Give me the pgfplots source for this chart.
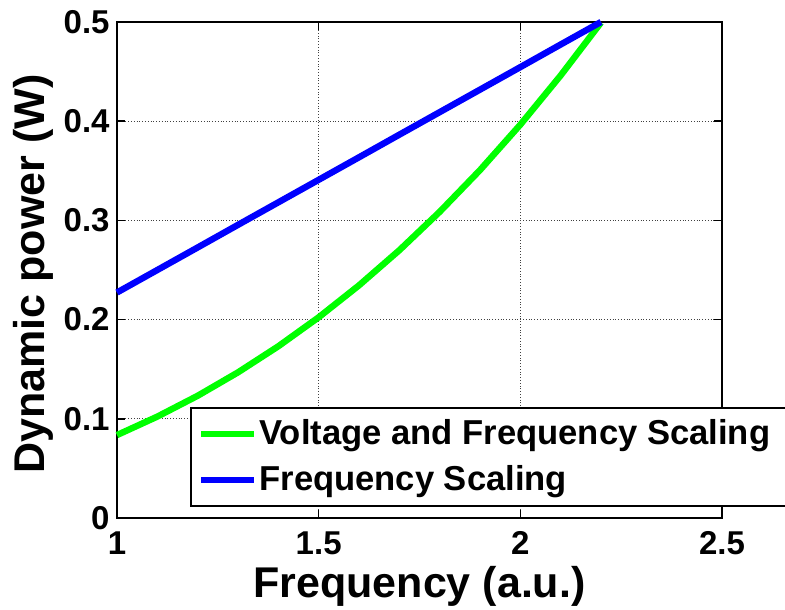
\documentclass[border=0pt]{standalone}
\usepackage{fontspec}
\setmainfont{Liberation Sans}
\usepackage{pgfplots}
\pgfplotsset{compat=1.18}

% scale: 1 px of the reference = 0.5pt
\pgfplotstableread{
f     p
1.0   0.0836
1.1   0.1022
1.2   0.1232
1.3   0.1468
1.4   0.1731
1.5   0.2023
1.6   0.2345
1.7   0.2699
1.8   0.3086
1.9   0.3507
2.0   0.3965
2.1   0.4461
2.2   0.4994
}\vfsdata
\pgfplotstableread{
f     p
1.0   0.2273
1.1   0.2500
1.2   0.2727
1.3   0.2955
1.4   0.3182
1.5   0.3409
1.6   0.3636
1.7   0.3864
1.8   0.4091
1.9   0.4318
2.0   0.4545
2.1   0.4773
2.2   0.5000
}\fsdata

\begin{document}
\begin{tikzpicture}
\begin{axis}[
    name=ax,
    scale only axis,
    width=302.5pt, height=248pt,
    xmin=1, xmax=2.5, ymin=0, ymax=0.5,
    xtick={1,1.5,2,2.5},
    ytick={0,0.1,0.2,0.3,0.4,0.5},
    yticklabel style={/pgf/number format/fixed, /pgf/number format/precision=1},
    /pgf/number format/assume math mode=true,
    ticklabel style={font=\fontsize{16.5}{19}\selectfont\bfseries},
    xticklabel style={anchor=base, inner sep=0pt, yshift=-18.5pt},
    yticklabel style={anchor=east, inner sep=0pt, xshift=-3.5pt},
    tick align=inside,
    major tick length=4pt,
    tick style={black, line width=0.8pt},
    axis line style={line width=1pt},
    grid=major,
    major grid style={densely dotted, gray!50!black, line width=0.55pt},
    clip=false,
    xlabel={Frequency (a.u.)},
    ylabel={Dynamic power (W)},
    every axis x label/.style={at={(rel axis cs:0.5,0)}, yshift=-40pt, anchor=base,
        font=\fontsize{21.5}{25}\selectfont\bfseries},
    every axis y label/.style={at={(rel axis cs:0,0.5)}, xshift=-36pt, yshift=-2pt,
        rotate=90, anchor=base, font=\fontsize{21.5}{25}\selectfont\bfseries},
    legend cell align=left,
    legend image code/.code={\draw[#1] (0pt,0pt) -- (26.5pt,0pt);},
    legend style={at={(rel axis cs:0.1207,0.2238)}, anchor=north west,
        draw=black, line width=1pt, inner xsep=3.5pt, inner ysep=4pt,
        row sep=5pt, column sep=1pt,
        font=\fontsize{17.3}{20}\selectfont\bfseries,
        nodes={inner sep=0pt, text height=14.5pt, text depth=3.5pt}},
]
\addplot[color={rgb,255:red,0;green,255;blue,0}, line width=3.2pt] table[x=f,y=p] {\vfsdata};
\addlegendentry{Voltage and Frequency Scaling\hspace*{14pt}}
\addplot[color={rgb,255:red,0;green,0;blue,255}, line width=3.2pt] table[x=f,y=p] {\fsdata};
\addlegendentry{Frequency Scaling}
\end{axis}
\pgfresetboundingbox
\path[use as bounding box] ([xshift=-58.5pt,yshift=-46pt]ax.south west)
    rectangle ([xshift=31.5pt,yshift=11pt]ax.north east);
\end{tikzpicture}
\end{document}
